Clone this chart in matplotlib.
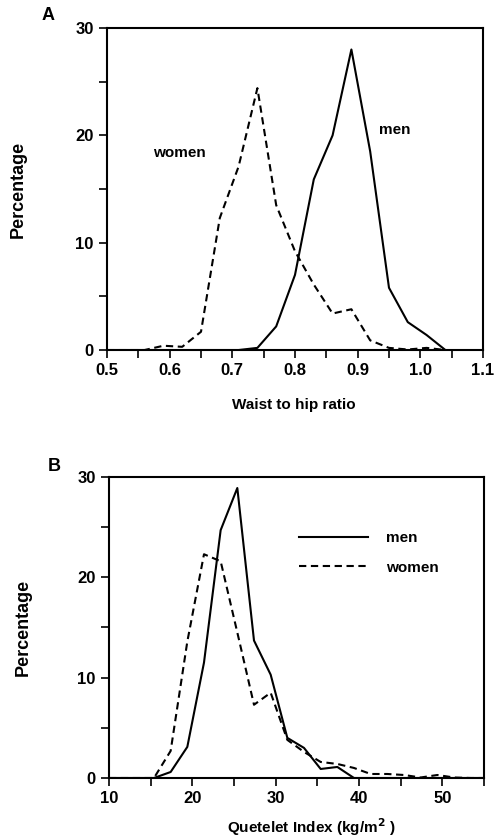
import matplotlib
matplotlib.use('Agg')
import matplotlib.pyplot as plt

plt.rcParams['font.family'] = ['Liberation Sans', 'DejaVu Sans']
plt.rcParams['font.weight'] = 'bold'

# panel A: waist to hip ratio
whr = [0.50, 0.53, 0.56, 0.59, 0.62, 0.65, 0.68, 0.71, 0.74, 0.77, 0.80,
       0.83, 0.86, 0.89, 0.92, 0.95, 0.98, 1.01, 1.04]
whr_men = [0, 0, 0, 0, 0, 0, 0, 0, 0.2, 2.2, 7.0,
           15.9, 20.0, 28.0, 18.5, 5.8, 2.6, 1.4, 0]
whr_women = [0, 0, 0, 0.4, 0.3, 1.7, 12.3, 17.1, 24.4, 13.5, 9.2,
             6.1, 3.4, 3.8, 0.9, 0.2, 0.05, 0.2, 0]

# panel B: Quetelet index
qi = [10.0, 13.4, 15.4, 17.4, 19.4, 21.4, 23.4, 25.4, 27.4, 29.4, 31.4, 33.4,
      35.4, 37.4, 39.4, 41.4, 43.4, 45.4, 47.4, 49.4, 51.4, 53.4, 55.0]
qi_men = [0, 0, 0, 0.6, 3.1, 11.5, 24.7, 28.9, 13.7, 10.3, 4.0, 3.0,
          0.9, 1.1, 0, 0, 0, 0, 0, 0, 0, 0, 0]
qi_women = [0, 0, 0, 2.7, 13.6, 22.3, 21.6, 14.5, 7.3, 8.5, 3.8, 2.6,
            1.6, 1.4, 1.0, 0.4, 0.4, 0.3, 0.05, 0.3, 0.05, 0, 0]

fig = plt.figure(figsize=(4.94, 8.39), dpi=100)
axA = fig.add_axes([0.2166, 0.5828, 0.7611, 0.3838])
axB = fig.add_axes([0.2206, 0.0727, 0.7592, 0.3588])

dash = (0, (3.5, 2.2))

axA.plot(whr, whr_men, '-', color='black', lw=1.5)
axA.plot(whr, whr_women, color='black', lw=1.5, linestyle=dash)
axA.set_xlim(0.5, 1.1)
axA.set_ylim(0, 30)
axA.set_xticks([0.5, 0.6, 0.7, 0.8, 0.9, 1.0, 1.1])
axA.set_xticklabels(['0.5', '0.6', '0.7', '0.8', '0.9', '1.0', '1.1'])
axA.set_xticks([0.55, 0.65, 0.75, 0.85, 0.95, 1.05], minor=True)
axA.set_yticks([0, 10, 20, 30])
axA.set_yticks([5, 15, 25], minor=True)
axA.set_xlabel('Waist to hip ratio', fontsize=11, fontweight='bold', va='center')
axA.xaxis.set_label_coords(0.497, -0.171)
axA.yaxis.set_label_coords(-0.237, 0.512)
axA.text(0.573, 18.4, 'women', fontsize=11, va='center')
axA.text(0.934, 20.5, 'men', fontsize=11, va='center')

axB.plot(qi, qi_men, '-', color='black', lw=1.5, label='men')
axB.plot(qi, qi_women, color='black', lw=1.5, linestyle=dash, label='women')
axB.set_xlim(10, 55)
axB.set_ylim(0, 30)
axB.set_xticks([10, 20, 30, 40, 50])
axB.set_xticks([15, 25, 35, 45, 55], minor=True)
axB.set_yticks([0, 10, 20, 30])
axB.set_yticks([5, 15, 25], minor=True)
axB.set_xlabel('Quetelet Index (kg/m$^{\\mathbf{2}}$ )', fontsize=11,
               fontweight='bold', va='center')
axB.xaxis.set_label_coords(0.54, -0.163)
axB.yaxis.set_label_coords(-0.229, 0.48)
axB.legend(loc='upper left', bbox_to_anchor=(0.47, 0.865), frameon=False,
           fontsize=11, handlelength=4.5, handletextpad=1.2, labelspacing=1.0)

for ax in (axA, axB):
    ax.set_ylabel('Percentage', fontsize=13, fontweight='bold', va='center')
    ax.tick_params(which='both', direction='out', length=6, width=1.2,
                   top=False, right=False, labelsize=12)
    for s in ax.spines.values():
        s.set_linewidth(1.5)

fig.text(0.085, 0.981, 'A', fontsize=13, fontweight='bold', va='center')
fig.text(0.096, 0.444, 'B', fontsize=13, fontweight='bold', va='center')

fig.savefig('out.png', dpi=100)
